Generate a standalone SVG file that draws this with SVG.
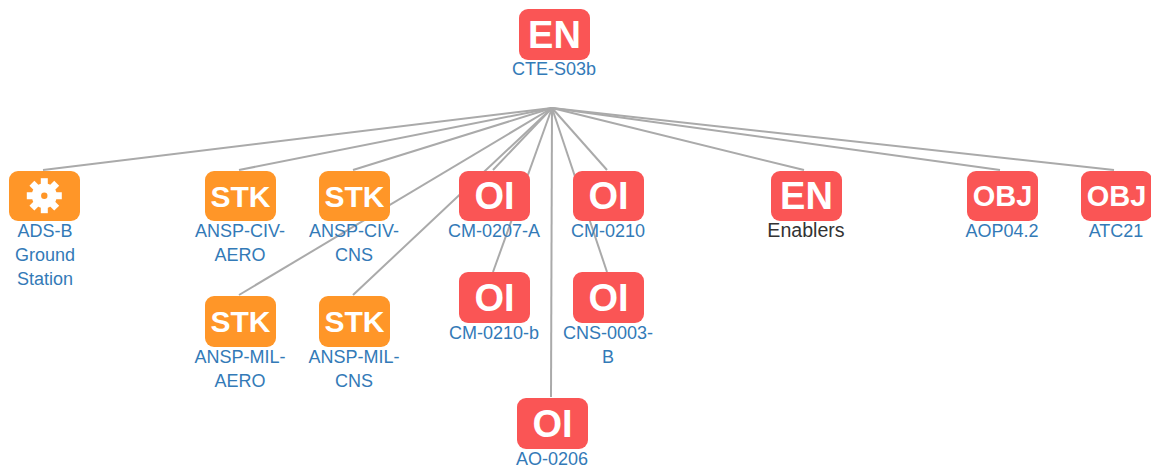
<svg xmlns="http://www.w3.org/2000/svg" width="1151" height="468" viewBox="0 0 1151 468">
<style>
.o{fill:#ff9628}
.r{fill:#fa5555}
.t{font-family:"Liberation Sans",Arial,sans-serif;font-weight:bold;fill:#fff;text-anchor:middle}
.l{font-family:"Liberation Sans",Arial,sans-serif;font-size:18px;fill:#337ab7;text-anchor:middle}
#connectors line{stroke:#aaa;stroke-width:2}
.g{stroke:#fff;stroke-width:7}
</style>
<rect width="1151" height="468" fill="#fff"/>
<g id="connectors">
<line x1="552" y1="108" x2="43" y2="170"/>
<line x1="552" y1="108" x2="239" y2="170"/>
<line x1="552" y1="108" x2="353" y2="170"/>
<line x1="552" y1="108" x2="239" y2="295"/>
<line x1="552" y1="108" x2="353" y2="295"/>
<line x1="552" y1="108" x2="493" y2="170"/>
<line x1="552" y1="108" x2="607" y2="170"/>
<line x1="552" y1="108" x2="493" y2="272"/>
<line x1="552" y1="108" x2="607" y2="272"/>
<line x1="552" y1="108" x2="551" y2="397"/>
<line x1="552" y1="108" x2="804" y2="170"/>
<line x1="552" y1="108" x2="1000" y2="170"/>
<line x1="552" y1="108" x2="1114" y2="170"/>
</g>
<g id="n-cte"><rect class="r" x="519" y="9" width="71" height="51" rx="9"/><text class="t" x="554.500" y="48" font-size="38">EN</text><text class="l" x="554" y="75">CTE-S03b</text></g>
<g id="n-adsb"><rect class="o" x="9" y="171" width="71" height="50" rx="9"/>
<g transform="translate(44.300 195.700)"><circle r="12.500" fill="#fff"/>
<line class="g" x1="-17.500" x2="17.500"/><line class="g" y1="-17.500" y2="17.500"/>
<line class="g" x1="-12.400" y1="-12.400" x2="12.400" y2="12.400"/><line class="g" x1="-12.400" y1="12.400" x2="12.400" y2="-12.400"/>
<circle r="3.200" class="o"/></g>
<text class="l" x="45" y="237">ADS-B</text><text class="l" x="45" y="261">Ground</text><text class="l" x="45" y="285">Station</text></g>
<g id="n-civ-aero"><rect class="o" x="205" y="171" width="71" height="50" rx="9"/><text class="t" x="240.500" y="206.500" font-size="30">STK</text><text class="l" x="240" y="237">ANSP-CIV-</text><text class="l" x="240" y="261">AERO</text></g>
<g id="n-civ-cns"><rect class="o" x="319" y="171" width="71" height="50" rx="9"/><text class="t" x="354.500" y="206.500" font-size="30">STK</text><text class="l" x="354" y="237">ANSP-CIV-</text><text class="l" x="354" y="261">CNS</text></g>
<g id="n-mil-aero"><rect class="o" x="205" y="296" width="71" height="51" rx="9"/><text class="t" x="240.500" y="332" font-size="30">STK</text><text class="l" x="240" y="363">ANSP-MIL-</text><text class="l" x="240" y="387">AERO</text></g>
<g id="n-mil-cns"><rect class="o" x="319" y="296" width="71" height="51" rx="9"/><text class="t" x="354.500" y="332" font-size="30">STK</text><text class="l" x="354" y="363">ANSP-MIL-</text><text class="l" x="354" y="387">CNS</text></g>
<g id="n-cm0207"><rect class="r" x="459" y="171" width="71" height="50" rx="9"/><text class="t" x="494.500" y="209" font-size="38">OI</text><text class="l" x="494" y="237">CM-0207-A</text></g>
<g id="n-cm0210"><rect class="r" x="573" y="171" width="71" height="50" rx="9"/><text class="t" x="608.500" y="209" font-size="38">OI</text><text class="l" x="608" y="237">CM-0210</text></g>
<g id="n-cm0210b"><rect class="r" x="459" y="272" width="71" height="51" rx="9"/><text class="t" x="494.500" y="311" font-size="38">OI</text><text class="l" x="494" y="339">CM-0210-b</text></g>
<g id="n-cns0003"><rect class="r" x="573" y="272" width="71" height="51" rx="9"/><text class="t" x="608.500" y="311" font-size="38">OI</text><text class="l" x="608" y="339">CNS-0003-</text><text class="l" x="608" y="363">B</text></g>
<g id="n-ao0206"><rect class="r" x="517" y="398" width="71" height="51" rx="9"/><text class="t" x="552.500" y="437" font-size="38">OI</text><text class="l" x="552" y="465">AO-0206</text></g>
<g id="n-enablers"><rect class="r" x="771" y="171" width="71" height="50" rx="9"/><text class="t" x="806.500" y="209" font-size="38">EN</text><text x="806" y="237" font-family="'Liberation Sans',Arial,sans-serif" font-size="19.600" fill="#333" text-anchor="middle">Enablers</text></g>
<g id="n-aop"><rect class="r" x="967" y="171" width="71" height="50" rx="9"/><text class="t" x="1002.500" y="206" font-size="29">OBJ</text><text class="l" x="1002" y="237">AOP04.2</text></g>
<g id="n-atc"><rect class="r" x="1081" y="171" width="71" height="50" rx="9"/><text class="t" x="1116.500" y="206" font-size="29">OBJ</text><text class="l" x="1116" y="237">ATC21</text></g>
</svg>
